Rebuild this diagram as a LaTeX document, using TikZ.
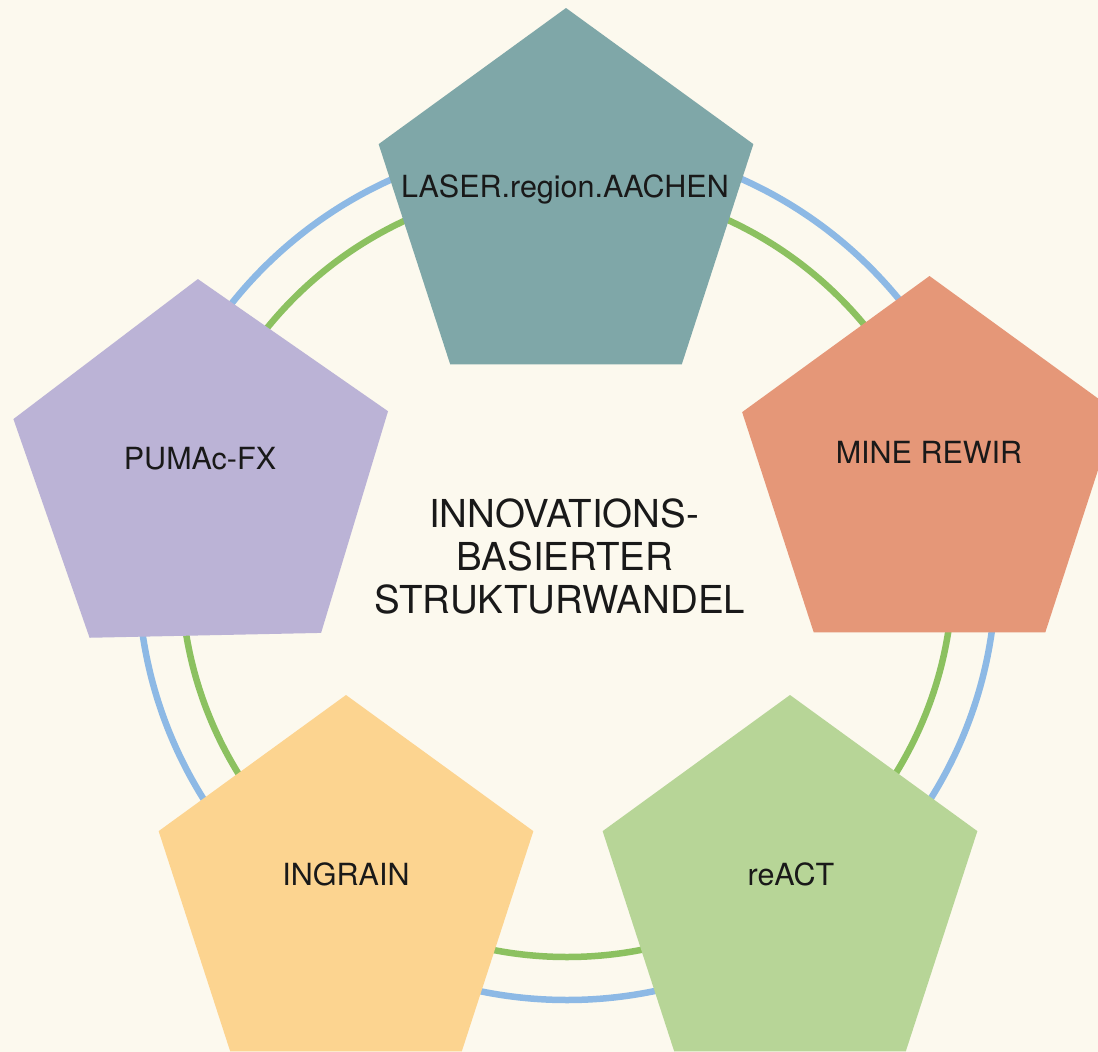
\documentclass[tikz,border=0pt]{standalone}
\usepackage{fontspec}
\setmainfont{TeX Gyre Heros}
\definecolor{bgc}{HTML}{FCF9EE}
\definecolor{tealc}{HTML}{7FA7A8}
\definecolor{salmonc}{HTML}{E59778}
\definecolor{lavc}{HTML}{BBB3D6}
\definecolor{yelc}{HTML}{FCD490}
\definecolor{grnc}{HTML}{B7D597}
\definecolor{ringblue}{HTML}{8DB9E5}
\definecolor{ringgreen}{HTML}{8CC160}
\newcommand{\mypenta}[5]{% name, color, cx, cy, rot
  \coordinate (#1) at (#3,#4);
  \fill[#2] ([shift={(#1)}]-90+#5:197) -- ([shift={(#1)}]-18+#5:197) -- ([shift={(#1)}]54+#5:197) -- ([shift={(#1)}]126+#5:197) -- ([shift={(#1)}]198+#5:197) -- cycle;}
\tikzset{
  lbl/.style={anchor=base, inner sep=0pt, font=\fontsize{30.5}{36}\selectfont, text=black!90},
  ctr/.style={anchor=base, inner sep=0pt, font=\fontsize{38.5}{43}\selectfont, text=black!90},
  ring/.style={line width=6.5pt}
}
\begin{document}
\begin{tikzpicture}[x=1pt,y=-1pt]
\useasboundingbox (0,0) rectangle (1098,1052);
\fill[bgc] (0,0) rectangle (1098,1052);
\coordinate (C) at (567,571);
\draw[ring, ringblue] (C) circle[radius=429];
\draw[ring, ringgreen] (C) circle[radius=386];
\mypenta{pA}{tealc}{566}{205}{0}
\mypenta{pB}{salmonc}{929.5}{473}{0}
\mypenta{pC}{lavc}{202}{476}{-1.2}
\mypenta{pD}{yelc}{346}{892}{0}
\mypenta{pE}{grnc}{790}{892}{0}
\node[lbl] (tA) at (565,197) {LASER.region.AACHEN};
\node[lbl] (tB) at (929,463) {MINE REWIR};
\node[lbl] (tC) at (200,469) {PUMAc-FX};
\node[lbl] (tD) at (346,885) {INGRAIN};
\node[lbl] (tE) at (791,885) {reACT};
\node[ctr] (c1) at (564,527) {INNOVATIONS-};
\node[ctr] (c2) at (565,570) {BASIERTER};
\node[ctr] (c3) at (560,613) {STRUKTURWANDEL};
\end{tikzpicture}
\end{document}
